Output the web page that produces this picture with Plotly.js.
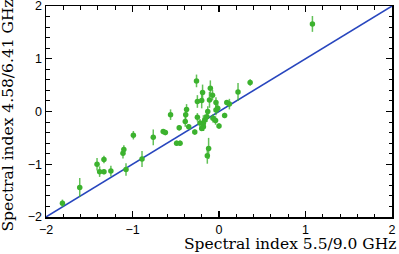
<!DOCTYPE html>
<html><head><meta charset="utf-8">
<script src="https://cdn.plot.ly/plotly-3.0.1.min.js"></script>
<style>html,body{margin:0;padding:0;background:#fff}#plot{width:399px;height:254px}</style>
</head><body><div id="plot"></div>
<script>
var xIdx = [-1.81,-1.61,-1.41,-1.38,-1.33,-1.33,-1.25,-1.11,-1.10,-1.075,-0.99,-0.89,-0.76,-0.645,-0.62,-0.56,-0.49,-0.45,-0.46,-0.39,-0.385,-0.375,-0.35,-0.28,-0.26,-0.25,-0.25,-0.20,-0.19,-0.20,-0.18,-0.165,-0.14,-0.13,-0.11,-0.10,-0.075,-0.07,-0.04,-0.035,-0.035,-0.015,0.0,0.065,0.09,0.12,0.22,0.36,1.08,-0.12,-0.135,-0.18,-0.22];
var yIdx = [-1.74,-1.44,-1.00,-1.14,-1.14,-0.91,-1.13,-0.79,-0.72,-1.10,-0.45,-0.90,-0.49,-0.38,-0.40,-0.06,-0.60,-0.60,-0.31,-0.19,-0.06,0.04,-0.29,-0.39,0.58,0.19,-0.11,0.21,0.36,-0.32,-0.22,-0.16,-0.10,0.0,0.22,0.44,0.31,-0.13,-0.17,0.17,0.03,0.06,-0.275,-0.075,0.17,0.14,0.37,0.55,1.66,-0.70,-0.84,-0.29,-0.22];
var yErr = [0.07,0.18,0.12,0.1,0.05,0.07,0.1,0.1,0.08,0.12,0.08,0.15,0.15,0.05,0.05,0.1,0.05,0.05,0.05,0.1,0.1,0.1,0.05,0.05,0.12,0.12,0.08,0.15,0.15,0.05,0.15,0.1,0.1,0.1,0.15,0.15,0.1,0.08,0.08,0.1,0.1,0.08,0.05,0.05,0.05,0.1,0.17,0.06,0.15,0.2,0.15,0.08,0.08];
var lineX = [-2, 2];
var lineY = [-2, 2];
var tickVals = [-2,-1,0,1,2];
var tickText = ['\u22122','\u22121','0','1','2'];

var green = 'rgb(60,178,46)';
var data = [
  {x: lineX, y: lineY, mode: 'lines', line: {color: 'rgb(40,70,190)', width: 1.5}, hoverinfo: 'none'},
  {x: xIdx, y: yIdx, mode: 'markers', marker: {color: green, size: 5.5},
   error_y: {type: 'data', array: yErr, visible: true, color: 'rgba(60,178,46,0.8)', thickness: 1.5, width: 0}}
];
var axisCommon = {
  range: [-2, 2], tickvals: tickVals, ticktext: tickText, ticks: 'inside', ticklen: 6, tickwidth: 1.2,
  tickcolor: '#000', showline: true, linecolor: '#000', linewidth: 1.5, mirror: 'allticks',
  showgrid: false, zeroline: false, fixedrange: true, ticklabeloverflow: 'allow',
  tickfont: {family: 'Liberation Sans, Arial, sans-serif', size: 12.5, color: '#000'},
  minor: {dtick: 0.2, ticks: 'inside', ticklen: 3.5, tickwidth: 1, tickcolor: '#000', showgrid: false}
};
var layout = {
  width: 399, height: 254, showlegend: false,
  margin: {l: 46, r: 7, t: 6, b: 37},
  paper_bgcolor: '#fff', plot_bgcolor: '#fff',
  xaxis: Object.assign({}, axisCommon),
  yaxis: Object.assign({}, axisCommon),
  annotations: [
    {text: 'Spectral index 5.5/9.0 GHz', xref: 'paper', yref: 'paper', x: 1.018, y: -0.075,
     xanchor: 'right', yanchor: 'top', showarrow: false,
     font: {family: 'DejaVu Serif, serif', size: 15.5, color: '#000'}},
    {text: 'Spectral index 4.58/6.41 GHz', xref: 'paper', yref: 'paper', x: -0.143, y: 1.038,
     xanchor: 'left', yanchor: 'top', textangle: -90, showarrow: false,
     font: {family: 'DejaVu Serif, serif', size: 15.5, color: '#000'}}
  ]
};
Plotly.newPlot('plot', data, layout, {staticPlot: true, displayModeBar: false});
</script></body></html>
